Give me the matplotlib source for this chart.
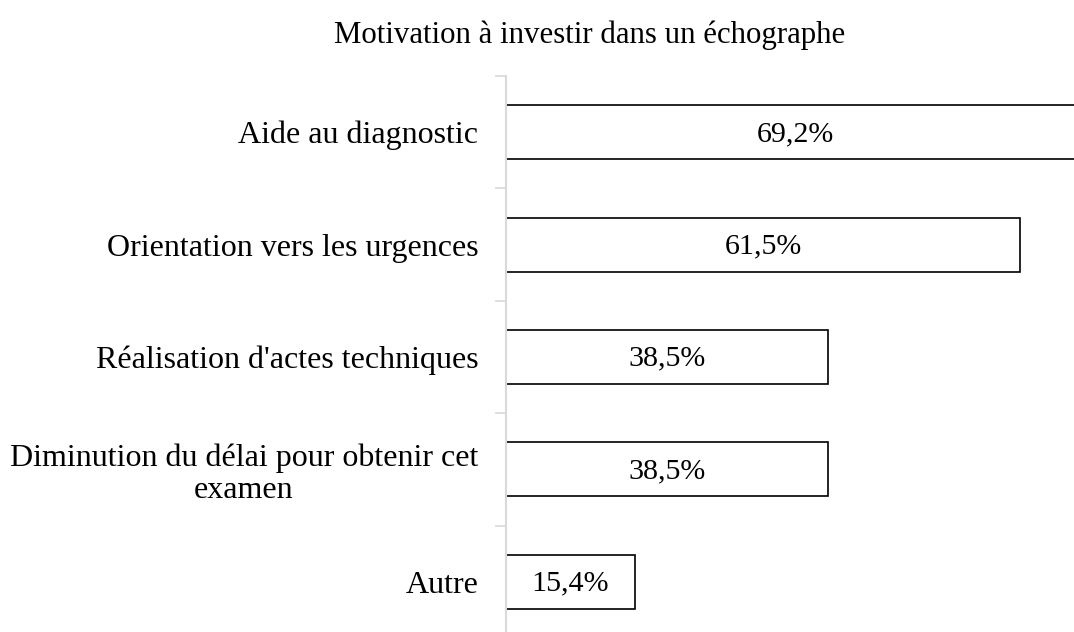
import matplotlib
matplotlib.use("Agg")
import matplotlib.pyplot as plt

categories = ["Aide au diagnostic", "Orientation vers les urgences",
              "Réalisation d'actes techniques",
              "Diminution du délai pour obtenir cet\nexamen", "Autre"]
values = [69.2, 61.5, 38.5, 38.5, 15.4]
value_labels = ["69,2%", "61,5%", "38,5%", "38,5%", "15,4%"]
title = "Motivation à investir dans un échographe"

plt.rcParams['font.family'] = ['Liberation Serif', 'DejaVu Serif']

W, H = 1074, 632
fig = plt.figure(figsize=(W / 100, H / 100), dpi=100)
left_px, right_px, top_px, bottom_px = 506, 1074, 76, 638
ax = fig.add_axes([left_px / W, 1 - bottom_px / H,
                   (right_px - left_px) / W, (bottom_px - top_px) / H])

ypos = list(range(len(categories)))
ax.barh(ypos, values, height=0.48, color="white", edgecolor="black", linewidth=1.2)
ax.set_ylim(len(categories) - 0.5, -0.5)
ax.set_xlim(0, (right_px - left_px) / 8.36)

for y, v, lab in zip(ypos, values, value_labels):
    ax.text(v / 2, y + 0.015, lab, ha="center", va="center", fontsize=21.6, color="black")

ax.set_yticks([y + 0.5 for y in [-1] + ypos], minor=False)
ax.set_yticks(ypos, minor=True)
ax.set_yticklabels([""] * (len(categories) + 1))
ax.set_yticklabels(categories, minor=True, fontsize=23, multialignment="center",
                   linespacing=1.12)
ax.tick_params(axis="y", which="major", length=8, width=1.2, color="#d9d9d9")
ax.tick_params(axis="y", which="minor", length=0, pad=20)
ax.set_xticks([])

for s in ["top", "right", "bottom"]:
    ax.spines[s].set_visible(False)
ax.spines["left"].set_color("#d9d9d9")
ax.spines["left"].set_linewidth(1.5)

fig.text(590 / W, 1 - 35 / H, title, ha="center", va="center", fontsize=22.2)

fig.savefig("out.png", dpi=100)
